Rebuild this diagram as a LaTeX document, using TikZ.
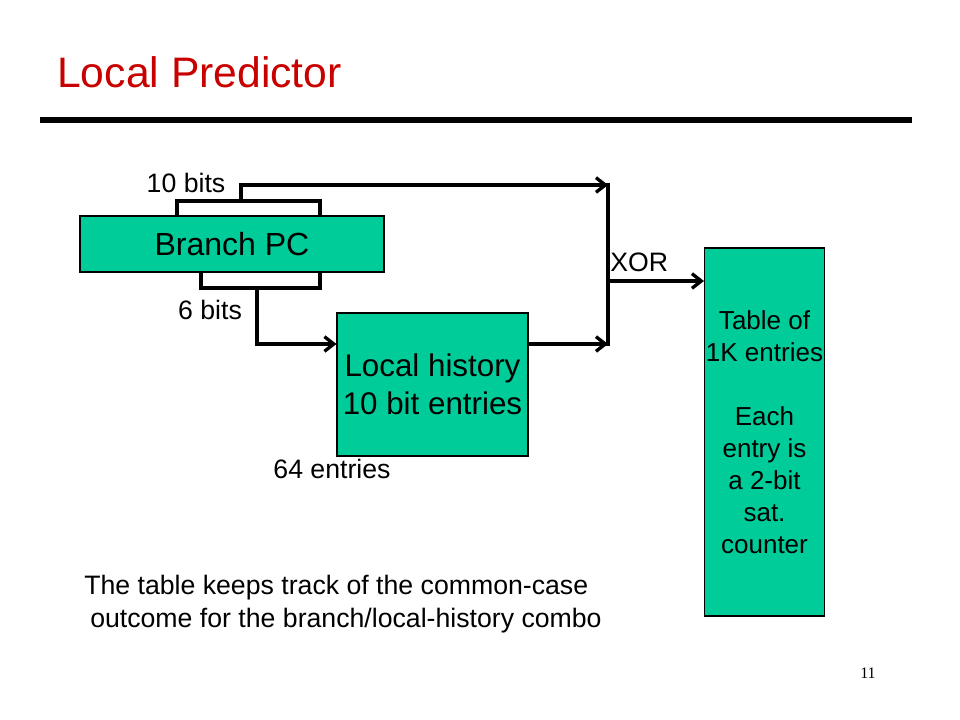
\documentclass[tikz,border=0pt]{standalone}
\usepackage{fontspec}
\setmainfont{Liberation Sans}
\newfontfamily\serifnum{Liberation Serif}
\usetikzlibrary{arrows.meta}
\definecolor{boxgreen}{RGB}{0,204,153}
\definecolor{titlered}{RGB}{200,0,0}
\tikzset{
  greenbox/.style={draw=black, line width=0.8pt, fill=boxgreen, inner sep=0pt, align=center},
  wire/.style={line width=2.5pt, line join=miter},
  arrowwire/.style={wire, -{Straight Barb[length=7pt,width=11pt,line width=2.5pt]}},
  lbl/.style={inner sep=0pt, font=\fontsize{20}{24}\selectfont},
}
\begin{document}
\begin{tikzpicture}[x=0.75pt,y=-0.75pt]
\useasboundingbox (0,0) rectangle (960,720);
% title and rule
\node[anchor=base west, inner sep=0pt, text=titlered, font=\fontsize{32}{38}\selectfont] (title) at (57,88) {Local Predictor};
\draw[line width=4.5pt] (40,120) coordinate (r1) -- (912,120) coordinate (r2);
% boxes
\node[greenbox, minimum width=228pt, minimum height=42pt, font=\fontsize{24}{28}\selectfont] (pc) at (232,244) {Branch PC};
\node[greenbox, minimum width=143.25pt, minimum height=107.25pt, font=\fontsize{23.5}{28.5}\selectfont] (lh) at (432.5,384.5) {Local history\\10 bit entries};
\node[greenbox, minimum width=90pt, minimum height=276pt, font=\fontsize{19.5}{24}\selectfont] (tab) at (764.5,432) {Table of\\1K entries\\[24pt]Each\\entry is\\a 2-bit\\sat.\\counter};
% coordinates
\coordinate (tb1) at (177,216);
\coordinate (tb2) at (320,216);
\coordinate (bb1) at (201,272);
\coordinate (bb2) at (320,272);
\coordinate (xtop) at (608,185);
\coordinate (xbot) at (608,346);
\coordinate (xmid) at (608,281);
% top bracket (10 bits)
\draw[wire] (tb1) -- (177,201) -- (320,201) -- (tb2);
\draw[arrowwire] (241,201) -- (241,185) -- (xtop);
% bottom bracket (6 bits)
\draw[wire] (bb1) -- (201,288) -- (320,288) -- (bb2);
\draw[arrowwire] (257,288) -- (257,344) -- (lh.west |- 0,344);
% local history to xor
\draw[arrowwire] (lh.east |- 0,344) -- (xbot |- 0,344);
% xor vertical
\draw[wire] (608,183.5) -- (xbot);
\draw[arrowwire] (xmid) -- (tab.west |- xmid);
% labels
\node[lbl] (l10) at (186,183) {10 bits};
\node[lbl] (l6) at (210,310) {6 bits};
\node[lbl] (l64) at (332,469) {64 entries};
\node[lbl, anchor=west] (lxor) at (610,262) {XOR};
\node[lbl, anchor=west] (note1) at (84,588) {The table keeps track of the common-case};
\node[lbl, anchor=west] (note2) at (90,621) {outcome for the branch/local-history combo};
\node[inner sep=0pt, font=\serifnum\fontsize{12}{14}\selectfont] (pg) at (868,673) {11};
\end{tikzpicture}
\end{document}
